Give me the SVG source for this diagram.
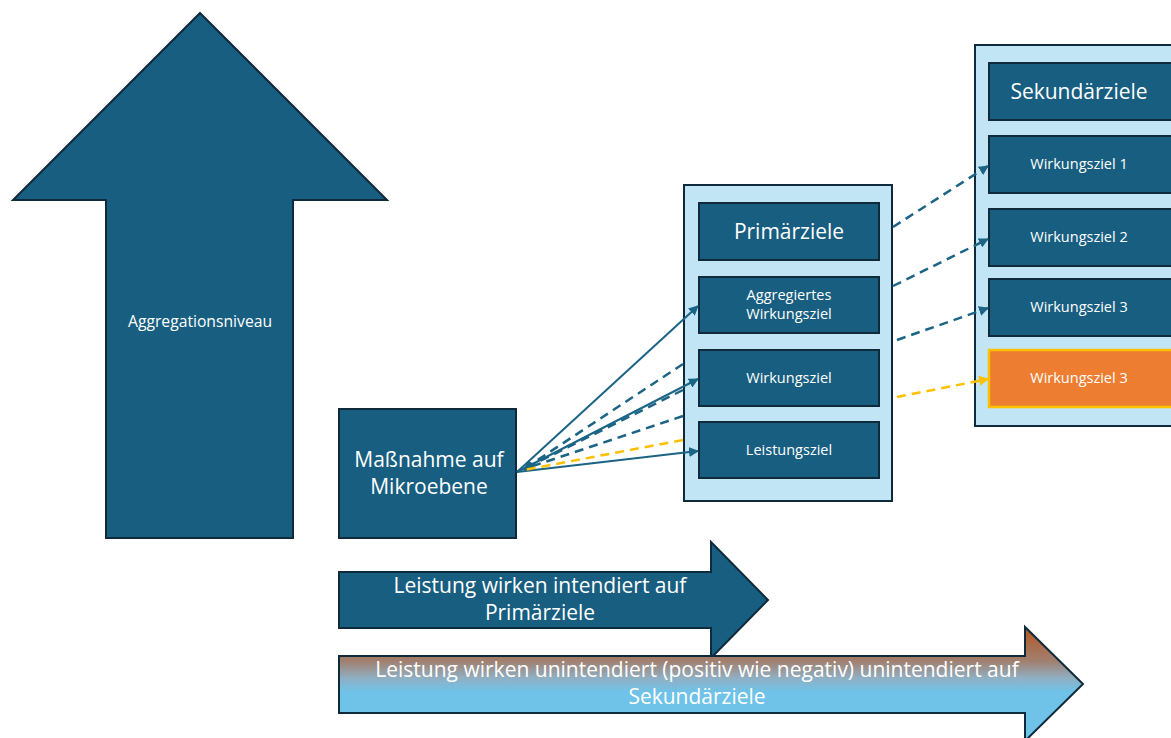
<svg xmlns="http://www.w3.org/2000/svg" width="1171" height="738" viewBox="0 0 1171 738">
  <style>
    .dark { fill: #175E80; stroke: #0F2A3A; stroke-width: 2; }
    .panel { fill: #C1E5F5; stroke: #0F2A3A; stroke-width: 2; }
    .orange { fill: #ED7D31; stroke: #FFC000; stroke-width: 2.5; }
    .t { font-family: "Open Sans", "Noto Sans", sans-serif; fill: #FFFFFF; text-anchor: middle; }
    .big { font-size: 21px; }
    .small { font-size: 14.5px; }
    .mid { font-size: 15.7px; }
    .solid { stroke: #1C6485; stroke-width: 2; fill: none; }
    .dash { stroke: #1C6485; stroke-width: 2.5; fill: none; stroke-dasharray: 9 6; }
    .ydash { stroke: #FFC000; stroke-width: 2.5; fill: none; stroke-dasharray: 9 6; }
  </style>
  <defs>
    <marker id="ah" viewBox="0 0 10 10" refX="9" refY="5" markerWidth="10" markerHeight="10" markerUnits="userSpaceOnUse" orient="auto">
      <path d="M0,0 L10,5 L0,10 z" fill="#1C6485"/>
    </marker>
    <marker id="ahy" viewBox="0 0 10 10" refX="9" refY="5" markerWidth="10" markerHeight="10" markerUnits="userSpaceOnUse" orient="auto">
      <path d="M0,0 L10,5 L0,10 z" fill="#FFC000"/>
    </marker>
    <linearGradient id="grad" x1="0" y1="0" x2="0" y2="1">
      <stop offset="0" stop-color="#B5561F"/>
      <stop offset="0.3" stop-color="#A08070"/>
      <stop offset="0.45" stop-color="#8FB0C4"/>
      <stop offset="0.57" stop-color="#6FC2E8"/>
      <stop offset="1" stop-color="#6FC2E8"/>
    </linearGradient>
  </defs>

  <g id="aggregation-arrow">
    <path class="dark" d="M200,13 L387,200 L293,200 L293,538 L106,538 L106,200 L13,200 Z"/>
    <text class="t mid" x="200" y="327">Aggregationsniveau</text>
  </g>

  <g id="massnahme">
    <rect class="dark" x="339" y="409" width="177" height="129"/>
    <text class="t big" x="429" y="467">Maßnahme auf</text>
    <text class="t big" x="429" y="494">Mikroebene</text>
  </g>

  <g id="primaer-panel">
    <rect class="panel" x="684" y="185" width="208" height="316"/>
  </g>
  <g id="primaerziele">
    <rect class="dark" x="699" y="203" width="180" height="57"/>
    <text class="t big" x="789" y="239">Primärziele</text>
  </g>
  <g id="aggregiertes-wirkungsziel">
    <rect class="dark" x="699" y="277" width="180" height="56"/>
    <text class="t small" x="789" y="300">Aggregiertes</text>
    <text class="t small" x="789" y="319">Wirkungsziel</text>
  </g>
  <g id="wirkungsziel">
    <rect class="dark" x="699" y="350" width="180" height="56"/>
    <text class="t small" x="789" y="383">Wirkungsziel</text>
  </g>
  <g id="leistungsziel">
    <rect class="dark" x="699" y="422" width="180" height="56"/>
    <text class="t small" x="789" y="455">Leistungsziel</text>
  </g>

  <g id="sekundaer-panel">
    <rect class="panel" x="975" y="45" width="215" height="381"/>
  </g>
  <g id="sekundaerziele">
    <rect class="dark" x="989" y="63" width="195" height="57"/>
    <text class="t big" x="1079" y="99">Sekundärziele</text>
  </g>
  <g id="wirkungsziel-1">
    <rect class="dark" x="989" y="136" width="195" height="57"/>
    <text class="t small" x="1079" y="169">Wirkungsziel 1</text>
  </g>
  <g id="wirkungsziel-2">
    <rect class="dark" x="989" y="209" width="195" height="57"/>
    <text class="t small" x="1079" y="242">Wirkungsziel 2</text>
  </g>
  <g id="wirkungsziel-3">
    <rect class="dark" x="989" y="279" width="195" height="57"/>
    <text class="t small" x="1079" y="312">Wirkungsziel 3</text>
  </g>
  <g id="wirkungsziel-3-orange">
    <rect class="orange" x="989" y="350" width="195" height="57"/>
    <text class="t small" x="1079" y="383">Wirkungsziel 3</text>
  </g>

  <g id="connectors">
    <line class="solid" x1="517" y1="472" x2="698" y2="306" marker-end="url(#ah)"/>
    <line class="solid" x1="517" y1="472" x2="698" y2="379" marker-end="url(#ah)"/>
    <line class="solid" x1="517" y1="472" x2="698" y2="451" marker-end="url(#ah)"/>
    <line class="dash" x1="683" y1="364" x2="524" y2="469" marker-end="url(#ah)"/>
    <line class="dash" x1="683" y1="390" x2="524" y2="469" marker-end="url(#ah)"/>
    <line class="dash" x1="683" y1="416" x2="524" y2="469" marker-end="url(#ah)"/>
    <line class="ydash" x1="683" y1="440" x2="524" y2="470"/>
    <line class="dash" x1="893" y1="227" x2="988" y2="166" marker-end="url(#ah)"/>
    <line class="dash" x1="893" y1="286" x2="988" y2="239" marker-end="url(#ah)"/>
    <line class="dash" x1="897" y1="340" x2="988" y2="308" marker-end="url(#ah)"/>
    <line class="ydash" x1="897" y1="397" x2="988" y2="379" marker-end="url(#ahy)"/>
  </g>

  <g id="arrow-intendiert">
    <path class="dark" d="M339,572 L711,572 L711,542 L768,600 L711,658 L711,628 L339,628 Z"/>
    <text class="t big" x="540" y="593">Leistung wirken intendiert auf</text>
    <text class="t big" x="540" y="620">Primärziele</text>
  </g>

  <g id="arrow-unintendiert">
    <path d="M339,656 L1025,656 L1025,627 L1083,684 L1025,741 L1025,713 L339,713 Z" fill="url(#grad)" stroke="#0F2A3A" stroke-width="2"/>
    <text class="t big" x="697" y="677">Leistung wirken unintendiert (positiv wie negativ) unintendiert auf</text>
    <text class="t big" x="697" y="704">Sekundärziele</text>
  </g>
</svg>
